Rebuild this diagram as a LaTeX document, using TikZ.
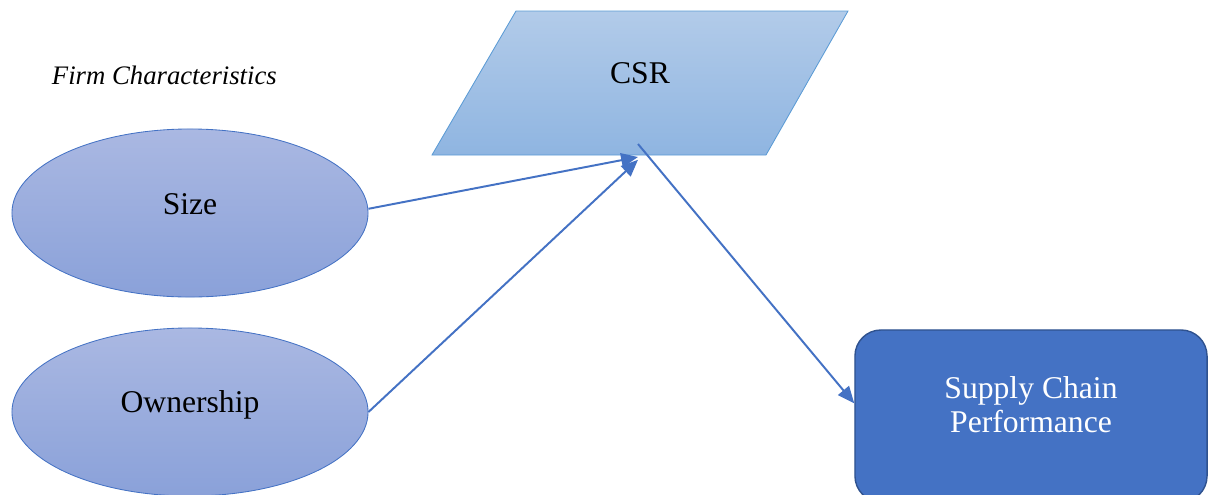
\documentclass[tikz,border=0pt]{standalone}
\usepackage{fontspec}
\setmainfont{Liberation Serif}
\usetikzlibrary{arrows.meta,positioning,shapes.geometric}
\definecolor{accblue}{HTML}{4472C4}
\definecolor{accdark}{HTML}{2F528F}
\definecolor{paraline}{HTML}{5B9BD5}
\definecolor{paratop}{HTML}{B2CBE9}
\definecolor{parabot}{HTML}{8FB5E1}
\definecolor{elltop}{HTML}{AAB8E2}
\definecolor{ellbot}{HTML}{8AA1D9}

\begin{document}
\begin{tikzpicture}[
    x=0.025cm, y=-0.025cm,
    bigtext/.style={font=\fontsize{22.5}{27}\selectfont},
    factor/.style={ellipse, draw=accblue, line width=0.6pt,
                   top color=elltop, bottom color=ellbot,
                   minimum width=8.9cm, minimum height=4.2cm, inner sep=0pt},
    csrshape/.style={draw=paraline, line width=0.6pt,
                     top color=paratop, bottom color=parabot},
    perfbox/.style={rectangle, rounded corners=0.65cm, draw=accdark, line width=1pt,
                    fill=accblue, minimum width=8.8cm, minimum height=4.3cm},
    arrow/.style={-{Triangle[length=12pt, width=10pt]}, draw=accblue, line width=1.4pt}
]
\useasboundingbox (0,0) rectangle (1208,494);
\node[font=\fontsize{19}{22}\selectfont\itshape, anchor=west] (firm) at (47,75) {Firm Characteristics};
\node[factor, label={[bigtext, yshift=6pt]center:Size}] (size) at (190,213) {};
\node[factor, label={[bigtext, yshift=5pt]center:Ownership}] (own) at (190,412) {};
% CSR parallelogram
\draw[csrshape] (432,155) -- (516,11) -- (848,11) -- (766,155) -- cycle;
\node[bigtext] (csr) at (640,73) {CSR};
\coordinate (csrin) at (638,157);
\coordinate (csrout) at (638,144);
\node[perfbox] (perf) at (1031,416) {};
\node[bigtext, text=white, align=center] (perftext) at (1031,405) {Supply Chain\\[-3pt]Performance};
\draw[arrow] ([yshift=3pt]size.east) -- (csrin);
\draw[arrow] (own.east) -- ([yshift=-2pt]csrin);
\draw[arrow] (csrout) -- ([yshift=9pt]perf.west);
\end{tikzpicture}
\end{document}
